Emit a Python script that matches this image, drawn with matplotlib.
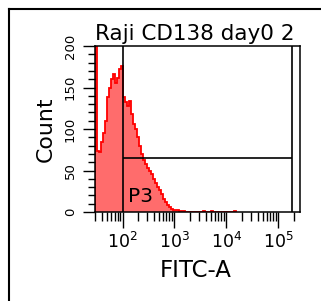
import numpy as np
import matplotlib
matplotlib.use('Agg')
import matplotlib.pyplot as plt
from matplotlib.ticker import LogLocator, NullFormatter, MultipleLocator
from matplotlib.lines import Line2D

# histogram data (FITC-A, log bins)
log_start = 1.468
bin_width = 0.0384
counts = [260, 74, 72, 84, 95, 110, 138, 150, 160, 166,
          155, 162, 172, 176, 138, 133, 128, 134, 118, 106,
          100, 90, 80, 70, 63, 58, 53, 49, 46, 40,
          35, 30, 27, 22, 16, 12, 9, 6, 4, 3,
          3, 2, 1, 1, 1, 0, 0, 0, 0, 0,
          0, 0, 0, 0, 1, 0, 0, 0, 1, 0,
          0, 0, 0, 0, 0, 0, 0, 0, 0, 0,
          1]
edges = 10 ** (log_start + bin_width * np.arange(len(counts) + 1))

# gate P3
gate_lo = 100
gate_hi = 186000
gate_y = 65

title = 'Raji CD138 day0 2'

fig = plt.figure(figsize=(3.21, 3.01), dpi=100)

# outer frame
fig.add_artist(Line2D([9/321, 9/321], [0, 1 - 9/301], transform=fig.transFigure, color='black', lw=1.5))
fig.add_artist(Line2D([9/321, 1], [1 - 9/301, 1 - 9/301], transform=fig.transFigure, color='black', lw=1.5))

ax = fig.add_axes([95/321, 89/301, 205/321, 166/301])

ax.stairs(counts, edges, fill=True, color='#ff6c6c')
ax.stairs(counts, edges, color='red', lw=1.3)

ax.set_xscale('log')
ax.set_xlim(29.4, 262144)
ax.set_ylim(0, 200)

ax.axvline(gate_lo, color='black', lw=1.2)
ax.axvline(gate_hi, color='black', lw=1.2)
ax.hlines(gate_y, gate_lo, gate_hi, color='black', lw=1.2)
ax.text(125, 12, 'P3', fontsize=14.5, va='baseline', ha='left')

ax.xaxis.set_major_locator(LogLocator(base=10, numticks=10))
ax.xaxis.set_minor_locator(LogLocator(base=10, subs=np.arange(2, 10), numticks=20))
ax.xaxis.set_minor_formatter(NullFormatter())
ax.yaxis.set_major_locator(MultipleLocator(50))
ax.yaxis.set_minor_locator(MultipleLocator(10))

ax.tick_params(axis='x', which='major', length=11.5, width=1, labelsize=12.5, pad=3)
ax.tick_params(axis='x', which='minor', length=6.5, width=1)
ax.tick_params(axis='y', which='major', length=9, width=1, labelsize=9.5, pad=4, labelrotation=90)
ax.tick_params(axis='y', which='minor', length=5, width=1)
for lab in ax.get_yticklabels():
    lab.set_va('center')

for s in ax.spines.values():
    s.set_linewidth(1.1)

ax.set_xlabel('FITC-A', fontsize=16.5)
ax.xaxis.set_label_coords(0.49, -0.283)
ax.set_ylabel('Count', fontsize=15.8)
ax.yaxis.set_label_coords(-0.19, 0.5)

fig.text(95/321, 1 - 40/301, title, fontsize=15.5, va='baseline', ha='left')

fig.savefig('out.png', dpi=100)
